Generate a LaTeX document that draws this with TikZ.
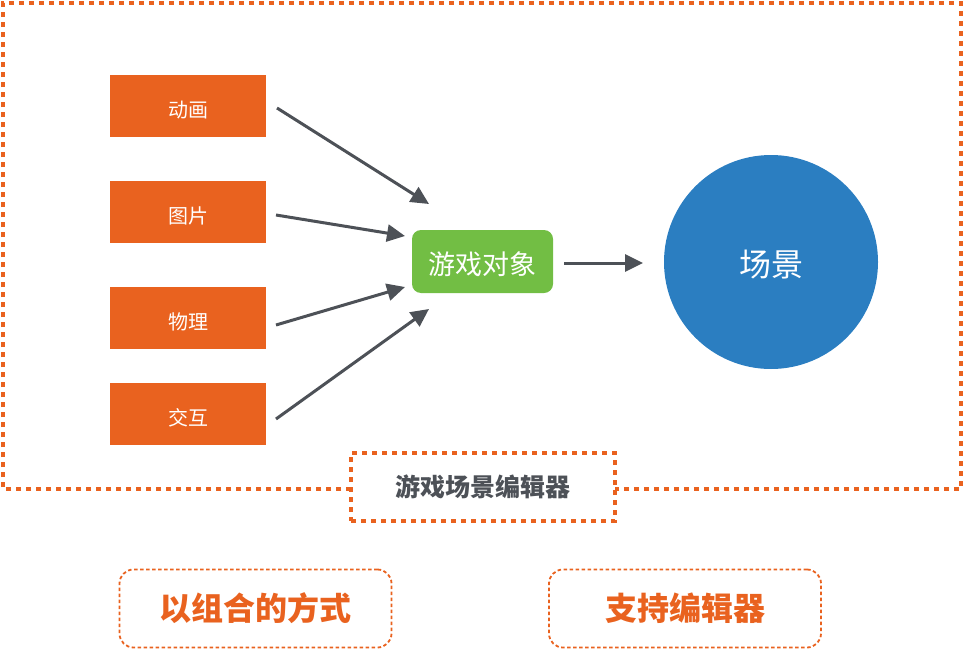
\documentclass[tikz,border=0pt]{standalone}
\usepackage{fontspec}
\setmainfont{Noto Sans CJK SC}
\usetikzlibrary{arrows.meta}
\definecolor{org}{HTML}{E9621F}
\definecolor{grn}{HTML}{72BE44}
\definecolor{blu}{HTML}{2B7EC1}
\definecolor{ink}{HTML}{4D5157}
\tikzset{
  sqdot/.style={draw=org,line width=4.5pt,dash pattern=on 5pt off 5pt},
  compbox/.style={fill=org,minimum width=156pt,minimum height=62pt,inner sep=0pt,text=white,text height=24pt,text depth=0.6pt,font=\fontsize{20}{22}\selectfont},
  conn/.style={draw=ink,line width=3pt,-{Triangle[length=18pt,width=17pt]}},
  tagbox/.style={draw=org,line width=1.8pt,dash pattern=on 3.5pt off 2.5pt,rounded corners=14pt,minimum width=272pt,minimum height=78pt,inner sep=0pt,text=org,font=\bfseries\fontsize{32}{34}\selectfont}
}
\begin{document}
\begin{tikzpicture}[x=1pt,y=-1pt]
\useasboundingbox (0,0) rectangle (965,650);
% outer dotted frame with gap
\draw[sqdot] (351,489) -- (3,489) -- (3,3) -- (961,3) -- (961,489) -- (615,489);
\node[sqdot,minimum width=264pt,minimum height=68pt,inner sep=0pt,text=ink,font=\bfseries\fontsize{25}{27}\selectfont] (ed) at (483,487) {游戏场景编辑器};
% component boxes
\node[compbox] (a) at (188,106) {动画};
\node[compbox] (b) at (188,212) {图片};
\node[compbox] (c) at (188,318) {物理};
\node[compbox] (d) at (188,413.5) {交互};
% game object
\node[fill=grn,rounded corners=9pt,minimum width=141pt,minimum height=63pt,inner sep=0pt,text=white,text height=26pt,text depth=0.6pt,font=\fontsize{27}{29}\selectfont] (obj) at (482.5,261.5) {游戏对象};
% scene
\node[circle,fill=blu,minimum size=214pt,inner sep=0pt,text=white,text height=30.4pt,text depth=0.6pt,font=\fontsize{32}{34}\selectfont] (sc) at (771,262) {场景};
% arrow end points
\coordinate (a1) at (277,108); \coordinate (a2) at (429,204);
\coordinate (b1) at (276,215); \coordinate (b2) at (405,236);
\coordinate (c1) at (276,325); \coordinate (c2) at (405,287);
\coordinate (d1) at (276,419); \coordinate (d2) at (429,309);
\coordinate (e1) at (564,263); \coordinate (e2) at (643,263);
\draw[conn] (a1) -- (a2);
\draw[conn] (b1) -- (b2);
\draw[conn] (c1) -- (c2);
\draw[conn] (d1) -- (d2);
\draw[conn] (e1) -- (e2);
% bottom tags
\node[tagbox] (t1) at (255.5,608.5) {以组合的方式};
\node[tagbox] (t2) at (685,608.5) {支持编辑器};
\end{tikzpicture}
\end{document}
